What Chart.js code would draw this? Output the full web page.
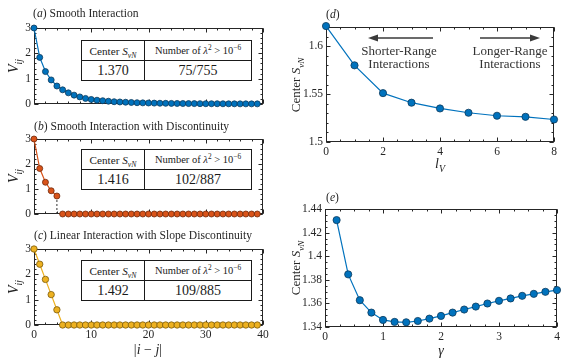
<!DOCTYPE html>
<html>
<head>
<meta charset="utf-8">
<script src="https://cdn.jsdelivr.net/npm/chart.js@4/dist/chart.umd.min.js"></script>
<style>
  body { margin: 0; background: #fff; }
  #wrap { position: relative; width: 580px; height: 363px; overflow: hidden;
          font-family: 'Liberation Serif', serif; color: #262626; }
  canvas { position: absolute; }
  .t { position: absolute; white-space: nowrap; font-size: 11.6px; line-height: 13px; }
  .lab { position: absolute; white-space: nowrap; font-size: 14px; line-height: 16px;
         transform: translate(-50%, -50%); }
  .rot { transform: translate(-50%, -50%) rotate(-90deg); }
  .note { position: absolute; white-space: nowrap; font-size: 13px; line-height: 13px;
          text-align: center; transform: translateX(-50%); color: #333; }
  sub, sup { font-size: 70%; line-height: 0; }
  table.tb { position: absolute; border-collapse: collapse; background: #fff; }
  table.tb td { border: 1px solid #1a1a1a; padding: 0; height: 19px; text-align: center;
                font-size: 10.5px; white-space: nowrap; color: #1a1a1a; }
  table.tb td.c1 { font-size: 11.2px; }
  table.tb td.big { font-size: 14px; }
</style>
</head>
<body>
<div id="wrap">
  <canvas id="ca" width="270" height="110" style="left:0;top:0"></canvas>
  <canvas id="cb" width="270" height="110" style="left:0;top:110px"></canvas>
  <canvas id="cc" width="270" height="143" style="left:0;top:220px"></canvas>
  <canvas id="cd" width="290" height="175" style="left:290px;top:0"></canvas>
  <canvas id="ce" width="290" height="178" style="left:290px;top:185px"></canvas>

  <div class="t" style="left:33px;top:7px">(<i>a</i>) Smooth Interaction</div>
  <div class="t" style="left:34px;top:120px">(<i>b</i>) Smooth Interaction with Discontinuity</div>
  <div class="t" style="left:34px;top:229px">(<i>c</i>) Linear Interaction with Slope Discontinuity</div>
  <div class="t" style="left:326px;top:8px">(<i>d</i>)</div>
  <div class="t" style="left:326px;top:191px">(<i>e</i>)</div>

  <div class="lab rot" style="left:14px;top:66px"><i>V<sub>ij</sub></i></div>
  <div class="lab rot" style="left:14px;top:176px"><i>V<sub>ij</sub></i></div>
  <div class="lab rot" style="left:14px;top:287px"><i>V<sub>ij</sub></i></div>
  <div class="lab" style="left:148px;top:350px">|<i>i</i> − <i>j</i>|</div>

  <div class="lab rot" style="left:296px;top:85px;font-size:13px">Center <i>S<sub>vN</sub></i></div>
  <div class="lab rot" style="left:296px;top:268px;font-size:13px">Center <i>S<sub>vN</sub></i></div>
  <div class="lab" style="left:440px;top:164px"><i>l<sub>V</sub></i></div>
  <div class="lab" style="left:441px;top:351px"><i>γ</i></div>

  <table class="tb" style="left:81px;top:40px">
    <tr><td class="c1" style="width:62px">Center <i>S<sub>vN</sub></i></td><td style="width:106px">Number of <i>λ</i><sup>2</sup> &gt; 10<sup>−6</sup></td></tr>
    <tr><td class="big">1.370</td><td class="big">75/755</td></tr>
  </table>
  <table class="tb" style="left:81px;top:149px">
    <tr><td class="c1" style="width:62px">Center <i>S<sub>vN</sub></i></td><td style="width:106px">Number of <i>λ</i><sup>2</sup> &gt; 10<sup>−6</sup></td></tr>
    <tr><td class="big">1.416</td><td class="big">102/887</td></tr>
  </table>
  <table class="tb" style="left:81px;top:260px">
    <tr><td class="c1" style="width:62px">Center <i>S<sub>vN</sub></i></td><td style="width:106px">Number of <i>λ</i><sup>2</sup> &gt; 10<sup>−6</sup></td></tr>
    <tr><td class="big">1.492</td><td class="big">109/885</td></tr>
  </table>

  <svg width="580" height="363" style="position:absolute;left:0;top:0">
    <g stroke="#3a3a3a" stroke-width="1.5" fill="#3a3a3a">
      <line x1="433" y1="38" x2="376" y2="38"/>
      <polygon points="368,38 378,34.5 378,41.5" stroke="none"/>
      <line x1="480" y1="38" x2="532" y2="38"/>
      <polygon points="540,38 530,34.5 530,41.5" stroke="none"/>
    </g>
  </svg>
  <div class="note" style="left:399px;top:44px">Shorter-Range<br>Interactions</div>
  <div class="note" style="left:510px;top:44px">Longer-Range<br>Interactions</div>
</div>

<script>
// panels (a)-(c): distance |i-j|
const sepAll = [0, 1, 2, 3, 4, 5, 6, 7, 8, 9, 10, 11, 12, 13, 14, 15, 16, 17, 18, 19,
                20, 21, 22, 23, 24, 25, 26, 27, 28, 29, 30, 31, 32, 33, 34, 35, 36, 37, 38, 39];
const smoothV = [3, 1.84, 1.28, 0.95, 0.71, 0.56, 0.44, 0.35, 0.28, 0.22,
                 0.18, 0.15, 0.13, 0.11, 0.09, 0.08, 0.07, 0.06, 0.05, 0.045,
                 0.04, 0.035, 0.03, 0.027, 0.024, 0.021, 0.019, 0.017, 0.015, 0.013,
                 0.012, 0.011, 0.01, 0.009, 0.008, 0.007, 0.006, 0.006, 0.005, 0.005];

const sepNear = [0, 1, 2, 3, 4];
const discNearV = [3, 1.82, 1.27, 0.93, 0.72];
const sepFar = [5, 6, 7, 8, 9, 10, 11, 12, 13, 14, 15, 16, 17, 18, 19, 20, 21, 22,
                23, 24, 25, 26, 27, 28, 29, 30, 31, 32, 33, 34, 35, 36, 37, 38, 39];
const discFarV = [0, 0, 0, 0, 0, 0, 0, 0, 0, 0, 0, 0, 0, 0, 0, 0, 0, 0,
                  0, 0, 0, 0, 0, 0, 0, 0, 0, 0, 0, 0, 0, 0, 0, 0, 0];
const jumpX = [4, 4];
const jumpV = [0.72, 0];

const linearV = [3, 2.4, 1.8, 1.2, 0.6, 0, 0, 0, 0, 0, 0, 0, 0, 0, 0, 0, 0, 0, 0, 0,
                 0, 0, 0, 0, 0, 0, 0, 0, 0, 0, 0, 0, 0, 0, 0, 0, 0, 0, 0, 0];

// panel (d)
const lV = [0, 1, 2, 3, 4, 5, 6, 7, 8];
const centerD = [1.621, 1.58, 1.551, 1.541, 1.535, 1.5305, 1.5274, 1.5263, 1.5235];

// panel (e)
const gamma = [0.2, 0.4, 0.6, 0.8, 1, 1.2, 1.4, 1.6, 1.8, 2, 2.2, 2.4, 2.6, 2.8, 3, 3.2, 3.4, 3.6, 3.8, 4];
const centerE = [1.4306, 1.3846, 1.3627, 1.3522, 1.346, 1.3443, 1.344, 1.3451, 1.3471, 1.3494,
                 1.3522, 1.3548, 1.3573, 1.3599, 1.3622, 1.3642, 1.3664, 1.3681, 1.3698, 1.3713];

// tick labels
const sepTicks = [0, 10, 20, 30, 40];
const vTicks = [0, 1, 2, 3];
const lTicks = [0, 2, 4, 6, 8];
const dTicks = [1.5, 1.55, 1.6];
const gTicks = [0, 1, 2, 3, 4];
const eTicks = [1.34, 1.36, 1.38, 1.4, 1.42, 1.44];

const pairs = (xs, ys) => xs.map((x, i) => ({ x: x, y: ys[i] }));

// box with inward major/minor ticks on all four sides, like the original
const frame = {
  id: 'frame',
  beforeDatasetsDraw(chart, args, opts) {
    const { ctx, chartArea: a, scales: { x, y } } = chart;
    ctx.save();
    ctx.strokeStyle = '#262626';
    ctx.lineWidth = 1;
    const L = Math.round(a.left) + 0.5, R = Math.round(a.right) - 0.5;
    const T = Math.round(a.top) + 0.5, B = Math.round(a.bottom) - 0.5;
    ctx.strokeRect(L, T, R - L, B - T);
    ctx.beginPath();
    const tx = (v, len) => {
      const p = Math.round(x.getPixelForValue(v)) + 0.5;
      ctx.moveTo(p, B); ctx.lineTo(p, B - len);
      ctx.moveTo(p, T); ctx.lineTo(p, T + len);
    };
    const ty = (v, len) => {
      const p = Math.round(y.getPixelForValue(v)) + 0.5;
      ctx.moveTo(L, p); ctx.lineTo(L + len, p);
      ctx.moveTo(R, p); ctx.lineTo(R - len, p);
    };
    for (let v = x.min; v <= x.max + 1e-9; v += opts.xMinor) tx(v, 2);
    for (let v = y.min; v <= y.max + 1e-9; v += opts.yMinor) ty(v, 2);
    x.ticks.forEach(t => tx(t.value, 4));
    y.ticks.forEach(t => ty(t.value, 4));
    ctx.stroke();
    ctx.restore();
  }
};

const tickFont = { family: "'Liberation Serif', serif", size: 11.5 };

function makeChart(id, datasets, o) {
  return new Chart(document.getElementById(id), {
    type: 'line',
    data: { datasets: datasets },
    options: {
      responsive: false,
      animation: false,
      events: [],
      layout: { padding: { top: o.top, right: o.right, left: 0, bottom: 0 } },
      plugins: {
        legend: { display: false },
        tooltip: { enabled: false },
        frame: { xMinor: o.xMinor, yMinor: o.yMinor }
      },
      scales: {
        x: {
          type: 'linear', min: o.xMin, max: o.xMax,
          grid: { display: false, drawTicks: false },
          border: { display: false },
          ticks: { display: o.xLabels, padding: 3, font: tickFont, color: '#262626',
                   callback: v => String(v) },
          afterBuildTicks: s => { s.ticks = o.xTicks.map(v => ({ value: v })); },
          afterFit: s => { s.height = o.xh; s.paddingLeft = 0; s.paddingRight = 0; }
        },
        y: {
          type: 'linear', min: o.yMin, max: o.yMax,
          grid: { display: false, drawTicks: false },
          border: { display: false },
          ticks: { padding: 3, font: tickFont, color: '#262626', callback: v => String(v) },
          afterBuildTicks: s => { s.ticks = o.yTicks.map(v => ({ value: v })); },
          afterFit: s => { s.width = o.yw; s.paddingTop = 0; s.paddingBottom = 0; }
        }
      }
    },
    plugins: [frame]
  });
}

function series(xs, ys, face, edge, r) {
  return {
    data: pairs(xs, ys),
    borderColor: face, backgroundColor: face,
    pointBackgroundColor: face, pointBorderColor: edge,
    pointRadius: r, pointBorderWidth: 0.8, borderWidth: 1.2,
    tension: 0, clip: false
  };
}

const blue = '#0072BD', blueEdge = '#0d3a5c';
const orange = '#D95319', orangeEdge = '#6e2a0c';
const yellow = '#EDB120', yellowEdge = '#7a5a0e';

const leftOpts = { xMin: 0, xMax: 40, yMin: 0, yMax: 3, xTicks: sepTicks, yTicks: vTicks,
                   xMinor: 2, yMinor: 0.2, yw: 34, right: 7 };

makeChart('ca', [series(sepAll, smoothV, blue, blueEdge, 3)],
  Object.assign({}, leftOpts, { top: 28, xh: 6, xLabels: false }));

makeChart('cb', [
    series(sepNear, discNearV, orange, orangeEdge, 3),
    series(sepFar, discFarV, orange, orangeEdge, 3),
    { data: pairs(jumpX, jumpV), borderColor: '#333', borderWidth: 1, borderDash: [2, 2],
      pointRadius: 0, clip: false, order: 5 }
  ],
  Object.assign({}, leftOpts, { top: 29, xh: 6, xLabels: false }));

makeChart('cc', [series(sepAll, linearV, yellow, yellowEdge, 3.2)],
  Object.assign({}, leftOpts, { top: 29, xh: 38, xLabels: true }));

makeChart('cd', [series(lV, centerD, blue, blueEdge, 3.6)],
  { xMin: 0, xMax: 8, yMin: 1.5, yMax: 1.62, xTicks: lTicks, yTicks: dTicks,
    xMinor: 0.5, yMinor: 0.01, yw: 36, right: 26, top: 27, xh: 33, xLabels: true });

makeChart('ce', [series(gamma, centerE, blue, blueEdge, 3.6)],
  { xMin: 0, xMax: 4, yMin: 1.34, yMax: 1.44, xTicks: gTicks, yTicks: eTicks,
    xMinor: 0.25, yMinor: 0.005, yw: 35, right: 23, top: 24, xh: 36, xLabels: true });
</script>
</body>
</html>
